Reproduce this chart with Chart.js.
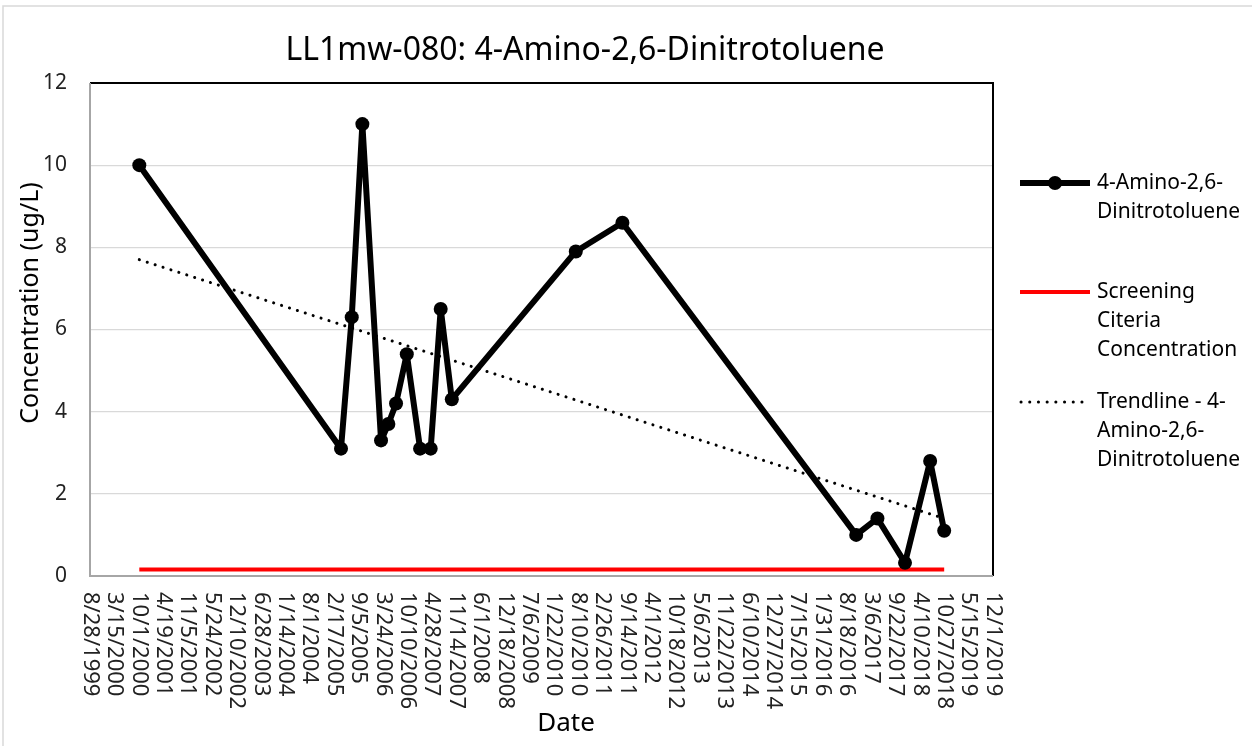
<!DOCTYPE html>
<html>
<head>
<meta charset="utf-8">
<script src="https://cdn.jsdelivr.net/npm/chart.js@4/dist/chart.umd.min.js"></script>
<style>
body{margin:0;background:#fff;}
#wrap{width:1252px;height:746px;}
</style>
</head>
<body>
<div id="wrap"><canvas id="chart" width="1252" height="746"></canvas></div>
<script>
// DATA
var sampleDates=["2000-10-05","2005-04-15","2005-07-12","2005-10-07","2006-03-09","2006-05-08","2006-07-10","2006-10-06","2007-01-23","2007-04-20","2007-07-11","2007-10-10","2010-07-22","2011-08-08","2016-11-05","2017-04-28","2017-12-10","2018-07-04","2018-10-27"];
var concValues=[10, 3.1, 6.3, 11, 3.3, 3.7, 4.2, 5.4, 3.1, 3.1, 6.5, 4.3, 7.9, 8.6, 1.0, 1.4, 0.32, 2.8, 1.1];
var screeningDates=["2000-10-05","2018-10-27"];
var screeningValues=[0.16, 0.16];
var trendDates=["2000-10-05","2018-10-27"];
var trendValues=[7.7, 1.4];
var xMin=36400; // 8/28/1999 as excel serial
var xMax=43800; // 12/1/2019
var xStep=200;
var yTicks=[0, 2, 4, 6, 8, 10, 12];
var titleText="LL1mw-080: 4-Amino-2,6-Dinitrotoluene";
var yTitle="Concentration (ug/L)";
var xTitle="Date";
var legendNames=[["4-Amino-2,6-","Dinitrotoluene"],["Screening","Citeria","Concentration"],["Trendline - 4-","Amino-2,6-","Dinitrotoluene"]];

var FONT="'Noto Sans', 'Open Sans', sans-serif";

function toSerial(s){
  var p=s.split("-");
  return Date.UTC(Number(p[0]), Number(p[1])-1, Number(p[2]))/86400000+25569;
}
function serialLabel(v){
  var d=new Date((v-25569)*86400000);
  return (d.getUTCMonth()+1)+"/"+d.getUTCDate()+"/"+d.getUTCFullYear();
}
function pairs(dates, vals){
  var out=[];
  dates.forEach(function(d, i){
    out.push({x: toSerial(d), y: vals[i]});
  });
  return out;
}

// EXTRA DRAWING
var decor={
  id: "decor",
  beforeDraw: function(chart){
    var c=chart.ctx;
    c.save();
    c.fillStyle="#fff";
    c.fillRect(0, 0, chart.width, chart.height);
    c.strokeStyle="#d9d9d9";
    c.lineWidth=1.5;
    c.beginPath();
    c.moveTo(3, chart.height);
    c.lineTo(3, 6);
    c.lineTo(chart.width, 6);
    c.stroke();
    c.restore();
  },
  beforeDatasetsDraw: function(chart){
    var c=chart.ctx;
    var a=chart.chartArea;
    c.save();
    c.lineWidth=2;
    c.strokeStyle="#000";
    c.beginPath();
    c.moveTo(a.left, a.top);
    c.lineTo(a.right, a.top);
    c.lineTo(a.right, a.bottom);
    c.stroke();
    c.strokeStyle="#a6a6a6";
    c.beginPath();
    c.moveTo(a.left, a.top);
    c.lineTo(a.left, a.bottom);
    c.lineTo(a.right, a.bottom);
    c.stroke();
    c.restore();
  },
  afterDraw: function(chart){
    var c=chart.ctx;
    var a=chart.chartArea;
    var xs=chart.scales.x;
    c.save();
    c.fillStyle="#000";
    // TITLE
    c.font="32px "+FONT;
    c.textAlign="center";
    c.textBaseline="alphabetic";
    c.fillText(titleText, 585, 60);
    // X TICK LABELS
    c.font="22px "+FONT;
    c.fillStyle="#222";
    xs.ticks.forEach(function(t){
      var px=xs.getPixelForValue(t.value);
      c.save();
      c.translate(px, a.bottom+16);
      c.rotate(Math.PI/2);
      c.textAlign="left";
      c.textBaseline="middle";
      c.fillText(serialLabel(t.value), 0, 0);
      c.restore();
    });
    // AXIS TITLES
    c.fillStyle="#000";
    c.font="26px "+FONT;
    c.textAlign="center";
    c.textBaseline="middle";
    c.fillText(xTitle, 566, 724);
    c.save();
    c.translate(31, 303);
    c.rotate(-Math.PI/2);
    c.font="25px "+FONT;
    c.fillText(yTitle, 0, 0);
    c.restore();
    // LEGEND
    var rows=[183, 292, 402];
    c.font="21px "+FONT;
    c.textAlign="left";
    c.textBaseline="middle";
    legendNames.forEach(function(lines, i){
      var y=rows[i];
      c.save();
      c.beginPath();
      if(i==0){
        c.strokeStyle="#000";
        c.lineWidth=6;
        c.moveTo(1020, y);
        c.lineTo(1090, y);
        c.stroke();
        c.beginPath();
        c.fillStyle="#000";
        c.arc(1055, y, 7, 0, Math.PI*2);
        c.fill();
      }
      else if(i==1){
        c.strokeStyle="#ff0000";
        c.lineWidth=4;
        c.moveTo(1020, y);
        c.lineTo(1090, y);
        c.stroke();
      }
      else{
        c.strokeStyle="#000";
        c.lineWidth=3;
        c.lineCap="round";
        c.setLineDash([0.1, 8.6]);
        c.moveTo(1021, y);
        c.lineTo(1090, y);
        c.stroke();
      }
      c.restore();
      lines.forEach(function(l, j){
        c.fillText(l, 1097, y+j*29);
      });
    });
    c.restore();
  }
};

var ctx=document.getElementById("chart").getContext("2d");
var chart=new Chart(ctx, {
  type: "line",
  data: {
    datasets: [
      {
        label: legendNames[0].join(""),
        data: pairs(sampleDates, concValues),
        borderColor: "#000",
        backgroundColor: "#000",
        borderWidth: 6,
        borderJoinStyle: "round",
        borderCapStyle: "round",
        pointRadius: 7,
        pointBackgroundColor: "#000",
        pointBorderWidth: 0,
        tension: 0,
        fill: false
      },
      {
        label: legendNames[1].join(" "),
        data: pairs(screeningDates, screeningValues),
        borderColor: "#ff0000",
        borderWidth: 4,
        pointRadius: 0,
        fill: false
      },
      {
        label: legendNames[2].join(""),
        data: pairs(trendDates, trendValues),
        borderColor: "#000",
        borderWidth: 3,
        borderDash: [0.1, 8.2],
        borderCapStyle: "round",
        pointRadius: 0,
        fill: false
      }
    ]
  },
  options: {
    responsive: false,
    animation: false,
    events: [],
    layout: {padding: {top: 83, right: 259, left: 0, bottom: 0}},
    plugins: {
      legend: {display: false},
      title: {display: false},
      tooltip: {enabled: false}
    },
    scales: {
      x: {
        type: "linear",
        min: xMin,
        max: xMax,
        grid: {display: false, drawTicks: false},
        border: {display: false},
        ticks: {display: false, stepSize: xStep, autoSkip: false},
        afterFit: function(s){ s.height=170; }
      },
      y: {
        min: yTicks[0],
        max: yTicks[yTicks.length-1],
        grid: {color: "#d9d9d9", lineWidth: 1.3, drawTicks: false},
        border: {display: false},
        ticks: {
          stepSize: 2,
          padding: 23,
          color: "#222",
          font: {family: FONT, size: 21}
        },
        afterFit: function(s){ s.width=90; }
      }
    }
  },
  plugins: [decor]
});
</script>
</body>
</html>
